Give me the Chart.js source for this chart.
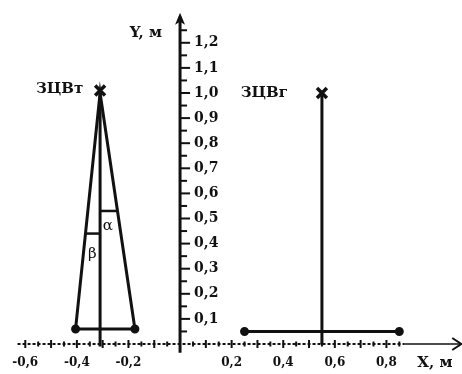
<!DOCTYPE html>
<html>
<head>
<meta charset="utf-8">
<script src="https://cdn.jsdelivr.net/npm/chart.js@4/dist/chart.umd.min.js"></script>
<style>
  html, body { margin: 0; padding: 0; background: #fff; }
  canvas { display: block; }
</style>
</head>
<body>
<canvas id="towerChart" width="462" height="374"></canvas>
<script>
// tripod support (ЗЦВт): base left, apex, base right
var triangleX = [-0.405, -0.31, -0.175];
var triangleY = [0.06, 1.0, 0.06];
// angle marks inside the tripod
var alphaX = [-0.31, -0.243];
var alphaY = [0.53, 0.53];
var betaX = [-0.367, -0.31];
var betaY = [0.44, 0.44];
// mast support (ЗЦВг)
var mastX = [0.55, 0.55];
var mastY = [0.0, 1.0];
var mastBaseX = [0.25, 0.85];
var mastBaseY = [0.05, 0.05];
// centre points marked with a cross
var centreX = [-0.31, 0.55];
var centreY = [1.01, 1.0];

var yTicks = [0.1, 0.2, 0.3, 0.4, 0.5, 0.6, 0.7, 0.8, 0.9, 1.0, 1.1, 1.2];
var yTickLabels = ['0,1', '0,2', '0,3', '0,4', '0,5', '0,6', '0,7', '0,8', '0,9', '1,0', '1,1', '1,2'];
var xTicks = [-0.6, -0.4, -0.2, 0.2, 0.4, 0.6, 0.8];
var xTickLabels = ['-0,6', '-0,4', '-0,2', '0,2', '0,4', '0,6', '0,8'];

function pts(xs, ys) {
    return xs.map(function(v, i) { return {x: v, y: ys[i]}; });
}

function line(data, extra) {
    return Object.assign({
        data: data,
        showLine: true,
        borderColor: '#111',
        backgroundColor: '#111',
        borderWidth: 3,
        pointRadius: 0,
        tension: 0
    }, extra || {});
}

var axesPlugin = {
    id: 'axes',
    beforeDraw: function(chart) {
        var ctx = chart.ctx;
        ctx.save();
        ctx.fillStyle = '#fff';
        ctx.fillRect(0, 0, chart.width, chart.height);
        ctx.restore();
    },
    beforeDatasetsDraw: function(chart) {
        var ctx = chart.ctx;
        var sx = chart.scales.x, sy = chart.scales.y;
        var x0 = sx.getPixelForValue(0), y0 = sy.getPixelForValue(0);
        ctx.save();
        ctx.strokeStyle = '#111';
        ctx.fillStyle = '#111';

        // vertical axis with arrow
        var yTop = sy.getPixelForValue(1.32);
        ctx.lineWidth = 3;
        ctx.beginPath();
        ctx.moveTo(x0, sy.getPixelForValue(-0.035));
        ctx.lineTo(x0, yTop + 4);
        ctx.stroke();
        ctx.beginPath();
        ctx.moveTo(x0, yTop);
        ctx.lineTo(x0 - 5, yTop + 12);
        ctx.lineTo(x0, yTop + 9);
        ctx.lineTo(x0 + 5, yTop + 12);
        ctx.closePath();
        ctx.fill();

        // ticks on the vertical axis, every 0.05
        ctx.lineWidth = 2;
        for (var i = 1; i <= 25; i++) {
            var py = sy.getPixelForValue(i * 0.05);
            var len = (i % 2 === 0) ? 10 : 7;
            ctx.beginPath();
            ctx.moveTo(x0, py);
            ctx.lineTo(x0 + len, py);
            ctx.stroke();
        }

        // horizontal axis: rough dotted part, then solid to the arrow
        var xLeft = sx.getPixelForValue(-0.63);
        var xDash = sx.getPixelForValue(0.87);
        var xRight = sx.getPixelForValue(1.09);
        ctx.lineWidth = 2;
        ctx.setLineDash([3, 2]);
        ctx.beginPath();
        ctx.moveTo(xLeft, y0);
        ctx.lineTo(xDash, y0);
        ctx.stroke();
        ctx.setLineDash([]);
        ctx.lineWidth = 1.5;
        ctx.beginPath();
        ctx.moveTo(xDash, y0);
        ctx.lineTo(xRight, y0);
        ctx.stroke();
        ctx.lineWidth = 2;
        ctx.beginPath();
        ctx.moveTo(xRight - 9, y0 - 6);
        ctx.lineTo(xRight, y0);
        ctx.lineTo(xRight - 9, y0 + 6);
        ctx.stroke();

        for (var k = -12; k <= 17; k++) {
            if (k === 0) continue;
            var px = sx.getPixelForValue(k * 0.05);
            var h = (k % 2 === 0) ? 4 : 2.5;
            ctx.beginPath();
            ctx.moveTo(px, y0 - h);
            ctx.lineTo(px, y0 + h);
            ctx.stroke();
        }

        // tick labels
        ctx.font = 'bold 14px "DejaVu Serif"';
        ctx.textAlign = 'left';
        ctx.textBaseline = 'middle';
        yTicks.forEach(function(v, i) {
            ctx.fillText(yTickLabels[i], x0 + 14, sy.getPixelForValue(v));
        });
        ctx.font = 'bold 12px "DejaVu Serif"';
        ctx.textAlign = 'center';
        xTicks.forEach(function(v, i) {
            ctx.fillText(xTickLabels[i], sx.getPixelForValue(v), y0 + 19);
        });

        // axis titles
        ctx.font = 'bold 15px "DejaVu Serif"';
        ctx.textAlign = 'right';
        ctx.fillText('Y, м', x0 - 18, sy.getPixelForValue(1.24));
        ctx.textAlign = 'left';
        ctx.fillText('X, м', sx.getPixelForValue(0.92), y0 + 19);
        ctx.restore();
    },
    afterDatasetsDraw: function(chart) {
        var ctx = chart.ctx;
        var sx = chart.scales.x, sy = chart.scales.y;
        ctx.save();
        ctx.fillStyle = '#111';
        ctx.textBaseline = 'middle';
        ctx.font = 'bold 15px "DejaVu Serif"';
        ctx.textAlign = 'right';
        ctx.fillText('ЗЦВт', sx.getPixelForValue(-0.375), sy.getPixelForValue(1.015));
        ctx.textAlign = 'left';
        ctx.fillText('ЗЦВг', sx.getPixelForValue(0.235), sy.getPixelForValue(1.0));
        ctx.font = '15px "DejaVu Serif"';
        ctx.textAlign = 'center';
        ctx.fillText('α', sx.getPixelForValue(-0.28), sy.getPixelForValue(0.47));
        ctx.fillText('β', sx.getPixelForValue(-0.34), sy.getPixelForValue(0.36));
        ctx.restore();
    }
};

document.addEventListener('DOMContentLoaded', function() {
    var ctxTower = document.getElementById('towerChart').getContext('2d');
    var towerChart = new Chart(ctxTower, {
        type: 'scatter',
        data: {
            datasets: [
                line(pts(triangleX, triangleY)),
                line(pts([triangleX[0], triangleX[2]], [triangleY[0], triangleY[2]]), {pointRadius: 3}),
                line(pts([triangleX[1], triangleX[1]], [triangleY[1], -0.01])),
                line(pts(alphaX, alphaY), {borderWidth: 2.5}),
                line(pts(betaX, betaY), {borderWidth: 2.5}),
                line(pts(mastX, mastY)),
                line(pts(mastBaseX, mastBaseY), {pointRadius: 3}),
                {
                    data: pts(centreX, centreY),
                    showLine: false,
                    pointStyle: 'crossRot',
                    pointRadius: 7,
                    borderWidth: 3.5,
                    borderColor: '#111'
                }
            ]
        },
        options: {
            responsive: false,
            animation: false,
            layout: { padding: 0, autoPadding: false },
            plugins: {
                legend: { display: false },
                tooltip: { enabled: false }
            },
            scales: {
                x: { type: 'linear', display: false, min: -0.698, max: 1.093 },
                y: { type: 'linear', display: false, min: -0.1195, max: 1.3705 }
            }
        },
        plugins: [axesPlugin]
    });
});
</script>
</body>
</html>
